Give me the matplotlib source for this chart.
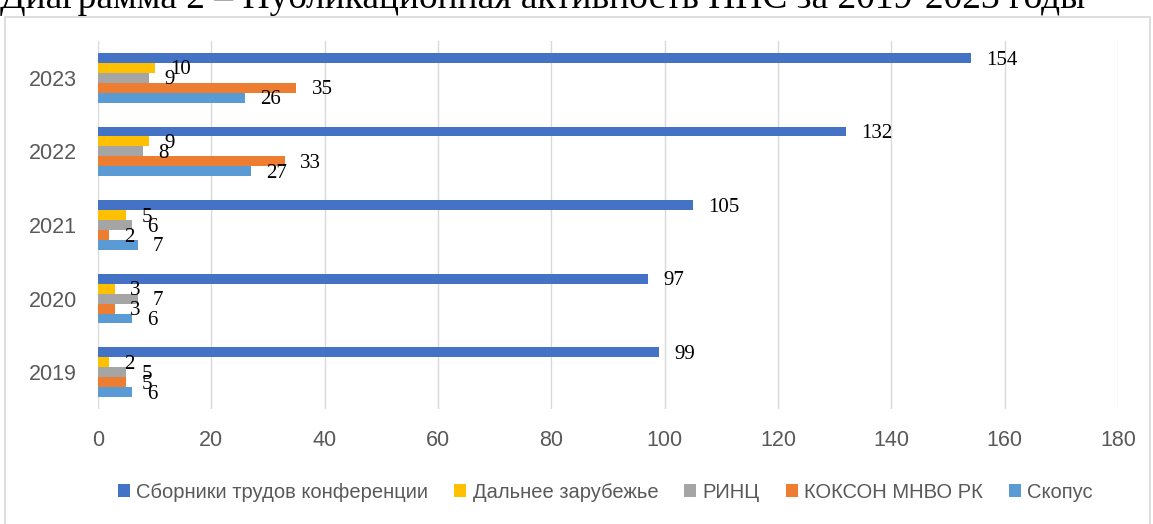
import numpy as np
import matplotlib.pyplot as plt
from matplotlib.patches import Rectangle

# data
years = ['2019', '2020', '2021', '2022', '2023']
series = ['Сборники трудов конференции', 'Дальнее зарубежье', 'РИНЦ', 'КОКСОН МНВО РК', 'Скопус']
sborniki = [99, 97, 105, 132, 154]
dalnee = [2, 3, 5, 9, 10]
rinc = [5, 7, 6, 8, 9]
kokson = [5, 3, 2, 33, 35]
scopus = [6, 6, 7, 27, 26]
colors = ['#4472C4', '#FFC000', '#A5A5A5', '#ED7D31', '#5B9BD5']

values = [sborniki, dalnee, rinc, kokson, scopus]

sans = ['Liberation Sans', 'DejaVu Sans']

fig = plt.figure(figsize=(11.53, 5.24), dpi=100)
ax = fig.add_axes([98/1153, 1-409/524, (1118-98)/1153, (409-41)/524])

y = np.arange(len(years))
h = 0.135
# first series on top of the group, last at the bottom
offsets = [2*h, h, 0, -h, -2*h]
for vals, off, c, name in zip(values, offsets, colors, series):
    bars = ax.barh(y + off, vals, height=h, color=c, label=name)
    for b, v in zip(bars, vals):
        ax.annotate(str(v), (b.get_width(), b.get_y() + b.get_height()/2),
                    xytext=(11, -1.5), textcoords='offset points', va='center', ha='left',
                    fontsize=15, family='Liberation Serif', color='black')

ax.set_xlim(0, 180)
ax.set_ylim(-0.5, 4.5)
ax.set_xticks(range(0, 181, 20))
ax.set_yticks(y)
ax.set_yticklabels(years)
ax.tick_params(axis='y', length=0, labelsize=15.5, colors='#595959', pad=15)
ax.tick_params(axis='x', length=0, labelsize=15.5, colors='#595959', pad=15)
for lab in ax.get_xticklabels() + ax.get_yticklabels():
    lab.set_family(sans)
for s in ax.spines.values():
    s.set_visible(False)
ax.grid(axis='x', color='#D9D9D9', linewidth=1)
ax.set_axisbelow(True)

ax.legend(loc='center', bbox_to_anchor=(0.525, 1-492/524), bbox_transform=fig.transFigure,
          ncol=5, frameon=False, handlelength=0.6, handleheight=0.6,
          handletextpad=0.3, columnspacing=1.3, labelcolor='#595959',
          prop={'family': sans, 'size': 14.5})

# chart frame
fig.patches.append(Rectangle((5/1153, -0.05), 1145/1153, 1.05-17/524, transform=fig.transFigure,
                             fill=False, edgecolor='#D9D9D9', linewidth=1.2))

# title partly cut off at the top
fig.text(0.0, 1-8/524, 'Диаграмма 2 – Публикационная активность ППС за 2019-2023 годы',
         ha='left', va='baseline', fontsize=27, family='Liberation Serif')

fig.savefig('out.png', dpi=100)
